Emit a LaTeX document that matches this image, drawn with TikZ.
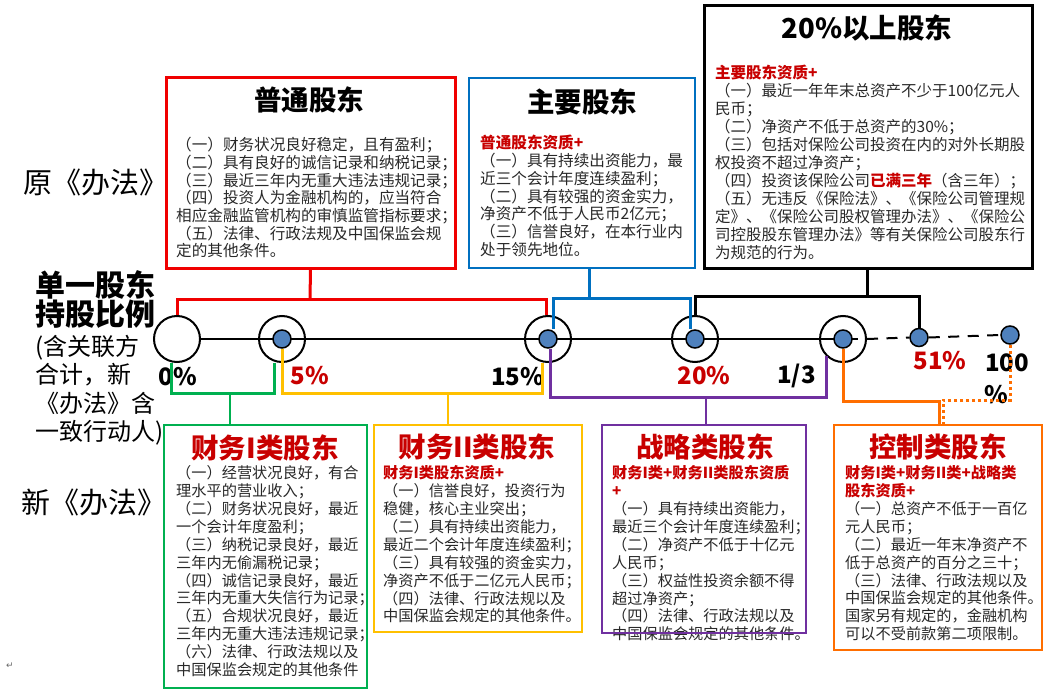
\documentclass[tikz,border=0pt]{standalone}
\usepackage{fontspec}
\setmainfont{Noto Sans CJK SC}
\newfontfamily\djv{DejaVu Sans}
\definecolor{redline}{RGB}{240,0,0}
\definecolor{blueline}{RGB}{0,112,192}
\definecolor{greenline}{RGB}{0,176,80}
\definecolor{yellowline}{RGB}{255,192,0}
\definecolor{purpleline}{RGB}{112,48,160}
\definecolor{orangeline}{RGB}{255,110,0}
\definecolor{darkred}{RGB}{200,0,0}
\definecolor{dotblue}{RGB}{79,129,189}
\definecolor{bodytext}{RGB}{40,40,40}
\newcommand{\redq}[1]{{\color{darkred}\bfseries #1}}
\begin{document}
\begin{tikzpicture}[x=1pt,y=-1pt,
  box/.style={rectangle, inner sep=0, line width=2.5pt},
  body/.style={anchor=north west, inner sep=0, align=left, font=\fontsize{15.6}{17.7}\selectfont, text=bodytext},
  lbody/.style={body, font=\fontsize{15.2}{17.9}\selectfont},
  ttl/.style={inner sep=0, font=\fontsize{27.5}{27.5}\selectfont\bfseries},
  rttl/.style={ttl, text=darkred},
  big/.style={draw, circle, line width=2pt, minimum size=46pt, inner sep=0},
  dot/.style={draw, circle, fill=dotblue, line width=1.5pt, minimum size=18pt, inner sep=0},
  pct/.style={inner sep=0, font=\fontsize{24}{24}\selectfont\bfseries},
  conn/.style={line width=3pt},
  drop/.style={line width=2pt},
  side/.style={inner sep=0, font=\fontsize{29}{29}\selectfont}
]
\useasboundingbox (0,0) rectangle (1057,695);

% ---------- top boxes ----------
\node[box, draw=redline, line width=3pt, minimum width=289pt, minimum height=190pt] (rbox) at (310.5,173) {};
\node[ttl] (rttl) at (309,100) {普通股东};
\node[body] (rtxt) at (176,137.2) {（一）财务状况良好稳定，且有盈利；\\（二）具有良好的诚信记录和纳税记录；\\（三）最近三年内无重大违法违规记录；\\（四）投资人为金融机构的，应当符合\\相应金融监管机构的审慎监管指标要求；\\（五）法律、行政法规及中国保监会规\\定的其他条件。};

\node[box, draw=blueline, minimum width=226pt, minimum height=190pt] (bbox) at (582,173) {};
\node[ttl] (bttl) at (582,102) {主要股东};
\node[body] (btxt) at (480,135.2) {\redq{普通股东资质+}\\（一）具有持续出资能力，最\\近三个会计年度连续盈利；\\（二）具有较强的资金实力，\\净资产不低于人民币2亿元；\\（三）信誉良好，在本行业内\\处于领先地位。};

\node[box, draw=black, line width=3pt, minimum width=328pt, minimum height=262pt] (kbox) at (868,137) {};
\node[ttl] (kttl) at (867,28) {20\%以上股东};
\node[body, font=\fontsize{15.5}{18}\selectfont] (ktxt) at (715,65.2) {\redq{主要股东资质+}\\（一）最近一年年末总资产不少于100亿元人\\民币；\\（二）净资产不低于总资产的30\%；\\（三）包括对保险公司投资在内的对外长期股\\权投资不超过净资产；\\（四）投资该保险公司\redq{已满三年}（含三年）；\\（五）无违反《保险法》、《保险公司管理规\\定》、《保险公司股权管理办法》、《保险公\\司控股股东管理办法》等有关保险公司股东行\\为规范的行为。};

% ---------- left labels ----------
\node[side] (orig) at (96,182) {原《办法》};
\node[inner sep=0, anchor=north west, align=left, font=\fontsize{30}{28}\selectfont\bfseries] (ratio) at (35,270) {单一股东\\持股比例};
\node[inner sep=0, anchor=north west, align=left, font=\fontsize{24}{28.3}\selectfont] (ratio2) at (35,335) {(含关联方\\合计，新\\《办法》含\\一致行动人)};
\node[side] (newl) at (94,502) {新《办法》};
\node[inner sep=0, font=\djv\fontsize{9}{9}\selectfont, text=black!60] (ret) at (10,666) {↵};

% ---------- axis ----------
\node[big] (c0) at (177,339) {};
\node[big] (c5) at (282,339) {};
\node[big] (c15) at (548,339) {};
\node[big] (c20) at (695,339) {};
\node[big] (c13) at (843,339) {};
\coordinate (ax1) at (858,339);
\draw[line width=2pt] (c0.east) -- (ax1);
\node[dot] (d5) at (282,339) {};
\node[dot] (d15) at (548,339) {};
\node[dot] (d20) at (695,339) {};
\node[dot] (d13) at (843,339) {};
\node[dot] (d51) at (919,337.5) {};
\node[dot] (d100) at (1010,335) {};
\draw[line width=2pt, dash pattern=on 11pt off 8.5pt] (c13.east) -- (d51.west);
\draw[line width=2pt, dash pattern=on 11pt off 8.5pt] (d51.east) -- (d100.west);

\node[pct] (p0) at (178,377) {0\%};
\node[pct, text=darkred] (p5) at (310,376) {5\%};
\node[pct] (p15) at (517.5,377) {15\%};
\node[pct, text=darkred] (p20) at (704,376) {20\%};
\node[pct] (p13) at (796.5,376) {1/3};
\node[pct, text=darkred] (p51) at (940,361) {51\%};
\node[pct] (p100) at (1007,362.5) {100};
\node[pct] (p100b) at (996,394.5) {\%};

% ---------- top connectors ----------
\coordinate (rj) at (310,299);
\draw[conn, redline] (rbox.south) -- (rj);
\draw[conn, redline] (c0.north) |- (rj) -| ([xshift=-2pt]c15.north);
\coordinate (bj) at (589,298);
\draw[conn, blueline] (bj |- bbox.south) -- (bj);
\draw[conn, blueline] ([xshift=5.5pt]d15.north) |- (bj) -| ([xshift=-4.5pt]d20.north);
\coordinate (kj) at (867,296);
\draw[conn, black] (kj |- kbox.south) -- (kj);
\draw[conn, black] (c20.north) |- (kj) -| (d51.north);

% ---------- bottom boxes ----------
\node[box, draw=greenline, minimum width=203pt, minimum height=263pt] (gbox) at (265.5,556.5) {};
\node[rttl] (gttl) at (265,448) {财务I类股东};
\node[lbody] (gtxt) at (176,465.4) {（一）经营状况良好，有合\\理水平的营业收入；\\（二）财务状况良好，最近\\一个会计年度盈利；\\（三）纳税记录良好，最近\\三年内无偷漏税记录；\\（四）诚信记录良好，最近\\三年内无重大失信行为记录；\\（五）合规状况良好，最近\\三年内无重大违法违规记录；\\（六）法律、行政法规以及\\中国保监会规定的其他条件};

\node[box, draw=yellowline, minimum width=208pt, minimum height=207pt] (ybox) at (478,528.5) {};
\node[rttl] (yttl) at (477,447) {财务II类股东};
\node[lbody] (ytxt) at (383,465.4) {\redq{财务I类股东资质+}\\（一）信誉良好，投资行为\\稳健，核心主业突出；\\（二）具有持续出资能力，\\最近二个会计年度连续盈利；\\（三）具有较强的资金实力，\\净资产不低于二亿元人民币；\\（四）法律、行政法规以及\\中国保监会规定的其他条件。};

\node[lbody] (ptxt) at (612,465.4) {\redq{财务I类+财务II类股东资质}\\\redq{+}\\（一）具有持续出资能力，\\最近三个会计年度连续盈利；\\（二）净资产不低于十亿元\\人民币；\\（三）权益性投资余额不得\\超过净资产；\\（四）法律、行政法规以及\\中国保监会规定的其他条件。};
\node[box, draw=purpleline, minimum width=204pt, minimum height=208pt] (pbox) at (704,529) {};
\node[rttl] (pttl) at (705,447) {战略类股东};

\node[box, draw=orangeline, minimum width=208pt, minimum height=225pt] (obox) at (938,537.5) {};
\node[rttl] (ottl) at (938,447) {控制类股东};
\node[lbody] (otxt) at (845,465.4) {\redq{财务I类+财务II类+战略类}\\\redq{股东资质+}\\（一）总资产不低于一百亿\\元人民币；\\（二）最近一年末净资产不\\低于总资产的百分之三十；\\（三）法律、行政法规以及\\中国保监会规定的其他条件。\\国家另有规定的，金融机构\\可以不受前款第二项限制。};

% ---------- bottom connectors ----------
\coordinate (gj) at (230,393);
\draw[conn, greenline] ([xshift=-6pt]c0.south) |- (gj) -| ([xshift=-8pt]c5.south);
\draw[drop, greenline] (gj) -- (gj |- gbox.north);
\coordinate (yj) at (448,393);
\draw[conn, yellowline] (d5.south) |- (yj) -| ([xshift=-6pt]c15.south);
\draw[drop, yellowline] (yj) -- (yj |- ybox.north);
\coordinate (pj) at (705.5,397);
\draw[conn, purpleline] ([xshift=2pt]d15.south) |- (pj) -| (c13.south west);
\draw[drop, purpleline] (pj) -- (pj |- pbox.north);
\coordinate (oj) at (939.5,401);
\draw[conn, orangeline] (d13.south) |- (oj) -- (oj |- obox.north);
\coordinate (odj) at (943.5,400);
\draw[line width=3pt, orangeline, dash pattern=on 3pt off 3pt] (d100.south) |- (odj) -- (odj |- obox.north);
\end{tikzpicture}
\end{document}
